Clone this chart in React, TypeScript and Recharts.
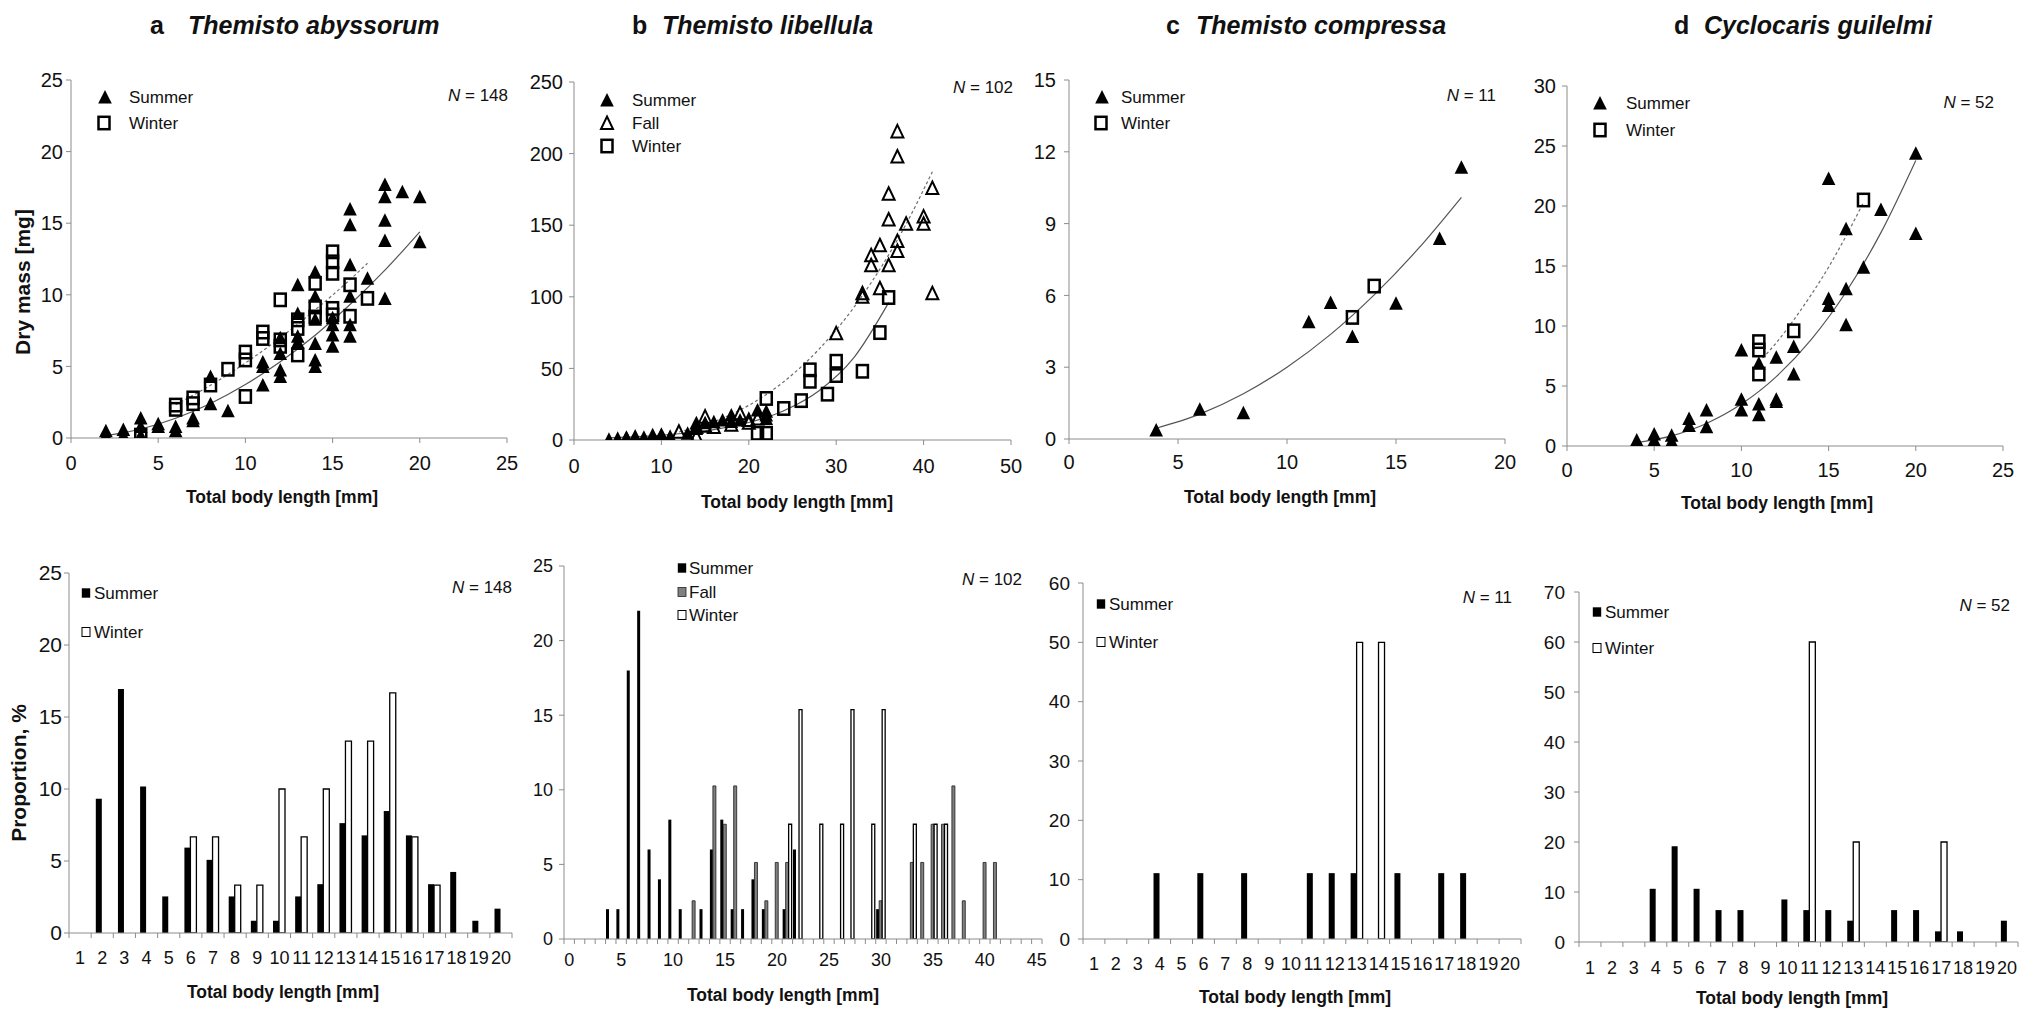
import React from 'react';
import { ComposedChart, Scatter, Line, XAxis, YAxis, BarChart, Bar, Legend } from 'recharts';

const FONT = '"Liberation Sans", Arial, Helvetica, sans-serif';
const AXIS = '#8c8c8c';
const INK = '#111111';

type Pt = [number, number];

// ---------------- Top row: dry mass [mg] vs total body length [mm] ----------------
// a  Themisto abyssorum
const aSummer: Pt[] = [[2,0.2],[2,0.5],[3,0.2],[3,0.6],[4,0.2],[4,0.8],[4,1.4],[5,0.8],[5,1.0],[6,0.5],[6,0.8],[7,1.2],[7,1.4],[8,2.4],[8,4.3],[9,1.9],[11,3.7],[11,5.0],[11,5.3],[12,4.3],[12,4.75],[12,5.9],[12,7.0],[13,6.7],[13,7.1],[13,8.7],[13,10.7],[14,5.0],[14,5.45],[14,6.6],[14,8.3],[14,9.9],[14,11.6],[15,6.4],[15,7.2],[15,7.9],[15,8.4],[16,7.1],[16,7.9],[16,9.9],[16,12.1],[16,14.9],[16,16.0],[17,11.15],[18,9.75],[18,13.8],[18,15.2],[18,16.85],[18,17.7],[19,17.2],[20,13.7],[20,16.85]];
const aWinter: Pt[] = [[4,0.2],[6,2.0],[6,2.3],[7,2.4],[7,2.8],[8,3.7],[9,4.8],[10,2.9],[10,5.45],[10,6.0],[11,6.95],[11,7.4],[12,6.4],[12,6.85],[12,9.65],[13,5.8],[13,7.65],[13,8.25],[14,8.45],[14,9.15],[14,10.8],[15,8.6],[15,9.05],[15,11.5],[15,12.3],[15,13.0],[16,8.5],[16,10.7],[17,9.75]];
const aFitSummer: Pt[] = [[2,0.16],[4,0.63],[6,1.38],[8,2.41],[10,3.73],[12,5.32],[14,7.18],[16,9.32],[18,11.72],[20,14.4]];
const aFitWinter: Pt[] = [[6,2.33],[8,3.68],[10,5.24],[12,7.0],[14,8.95],[16,11.06],[17,12.2]];

// b  Themisto libellula
const bSummer: Pt[] = [[4,0.5],[5,1.2],[6,1.5],[6,2],[7,2.8],[7,1.5],[8,2],[9,3.7],[10,3.5],[10,4],[11,2.6],[13,4.7],[14,12],[14,8],[15,12],[16,12.8],[17,14],[18,17.5],[18,13],[19,14],[21,21],[22,17.5],[22,15],[22,20]];
const bFall: Pt[] = [[12,5.8],[14,2.3],[14,9],[15,16.3],[15,10],[16,9],[18,10.7],[19,18.6],[20,14],[20,12],[21,15],[30,74.5],[33,102.5],[33,100],[34,129],[34,122],[35,136],[35,106],[36,172],[36,154],[36,122],[37,215.5],[37,198],[37,139],[37,132],[38,151],[40,156],[40,151],[41,176],[41,102.5]];
const bWinter: Pt[] = [[21,4.7],[22,4.7],[22,29],[24,22],[26,27.5],[27,49],[27,41],[29,32],[30,55],[30,45],[33,48],[35,75],[36,99.5]];
const bFitSolid: Pt[] = [[4,1.55],[8,2.6],[12,4.35],[16,7.3],[20,12.2],[24,20.4],[28,34.2],[32,57.3],[36,95.9]];
const bFitDashed: Pt[] = [[12,5.6],[16,12.8],[20,24.2],[24,40.7],[28,63.2],[32,92.4],[36,129.3],[38,150.8],[41,187.4]];

// c  Themisto compressa
const cSummer: Pt[] = [[4,0.38],[6,1.24],[8,1.1],[11,4.9],[12,5.7],[13,4.28],[15,5.67],[17,8.38],[18,11.35]];
const cWinter: Pt[] = [[13,5.08],[14,6.39]];
const cFit: Pt[] = [[4,0.45],[6,1.04],[8,1.89],[10,3.0],[12,4.37],[14,6.02],[16,7.93],[18,10.1]];

// d  Cyclocaris guilelmi
const dSummer: Pt[] = [[4,0.5],[5,1.0],[5,0.5],[5,0.2],[6,0.9],[6,0.4],[6,0.2],[7,2.3],[7,1.7],[8,3.0],[8,1.6],[10,8.0],[10,3.9],[10,3.0],[11,6.9],[11,3.5],[11,2.6],[12,7.4],[12,3.9],[12,3.7],[13,8.3],[13,6.0],[15,22.3],[15,12.3],[15,11.7],[16,18.1],[16,13.1],[16,10.1],[17,14.9],[18,19.7],[20,24.4],[20,17.7]];
const dWinter: Pt[] = [[11,8.7],[11,8.0],[11,6.0],[13,9.6],[17,20.5]];
const dFitSummer: Pt[] = [[4,0.28],[6,0.85],[8,1.88],[10,3.49],[12,5.78],[14,8.86],[16,12.83],[18,17.78],[20,23.8]];
const dFitWinter: Pt[] = [[11,7.0],[12,8.6],[13,10.5],[14,12.6],[15,14.9],[16,17.5],[17,20.3]];

// ---------------- Bottom row: proportion [%] per length class ----------------
const lens1to20 = ['1','2','3','4','5','6','7','8','9','10','11','12','13','14','15','16','17','18','19','20'];
const lens0to45 = Array.from({ length: 46 }, (_, i) => String(i));

const pSummerA = [0,9.32,16.95,10.17,2.54,5.93,5.08,2.54,0.85,0.85,2.54,3.39,7.63,6.78,8.47,6.78,3.39,4.24,0.85,1.69];
const pWinterA = [0,0,0,0,0,6.67,6.67,3.33,3.33,10,6.67,10,13.33,13.33,16.67,6.67,3.33,0,0,0];

const pSummerB = [0,0,0,0,2,2,18,22,6,4,8,2,0,2,6,8,2,2,4,2,0,2,6,0,0,0,0,0,0,0,2,0,0,0,0,0,0,0,0,0,0,0,0,0,0,0];
const pFallB = [0,0,0,0,0,0,0,0,0,0,0,0,2.56,0,10.26,7.69,10.26,0,5.13,2.56,5.13,5.13,0,0,0,0,0,0,0,0,2.56,0,0,5.13,5.13,7.69,7.69,10.26,2.56,0,5.13,5.13,0,0,0,0];
const pWinterB = [0,0,0,0,0,0,0,0,0,0,0,0,0,0,0,0,0,0,0,0,0,7.69,15.38,0,7.69,0,7.69,15.38,0,7.69,15.38,0,0,7.69,0,7.69,7.69,0,0,0,0,0,0,0,0,0];

const pSummerC = [0,0,0,11.1,0,11.1,0,11.1,0,0,11.1,11.1,11.1,0,11.1,0,11.1,11.1,0,0];
const pWinterC = [0,0,0,0,0,0,0,0,0,0,0,0,50,50,0,0,0,0,0,0];

const pSummerD = [0,0,0,10.64,19.15,10.64,6.38,6.38,0,8.51,6.38,6.38,4.26,0,6.38,6.38,2.13,2.13,0,4.26];
const pWinterD = [0,0,0,0,0,0,0,0,0,0,60,0,20,0,0,0,20,0,0,0];

// ---------------- text ----------------
const titles = [
  { letter: 'a', name: 'Themisto abyssorum', lx: 150, nx: 188 },
  { letter: 'b', name: 'Themisto libellula', lx: 632, nx: 662 },
  { letter: 'c', name: 'Themisto compressa', lx: 1166, nx: 1196 },
  { letter: 'd', name: 'Cyclocaris guilelmi', lx: 1674, nx: 1704 },
];
const nLabels = [
  { n: '148', xr: 508, cy: 95 }, { n: '102', xr: 1013, cy: 87 }, { n: '11', xr: 1496, cy: 95 }, { n: '52', xr: 1994, cy: 102 },
  { n: '148', xr: 512, cy: 587 }, { n: '102', xr: 1022, cy: 579 }, { n: '11', xr: 1512, cy: 597 }, { n: '52', xr: 2010, cy: 605 },
];

type Box = { x0: number; y0: number; x1: number; y1: number };
type LegendItem = { kind: string; mx: number; y: number; tx: number; label: string };

const toXY = (pts: Pt[]) => pts.map(([x, y]) => ({ x, y }));

function Marker({ kind, cx, cy }: { kind: string; cx: number; cy: number }) {
  if (kind === 'tri') return <polygon points={`${cx},${cy - 7} ${cx + 6.8},${cy + 6.5} ${cx - 6.8},${cy + 6.5}`} fill="#000" />;
  if (kind === 'otri') return <polygon points={`${cx},${cy - 6.5} ${cx + 6},${cy + 6} ${cx - 6},${cy + 6}`} fill="none" stroke="#000" strokeWidth={2} />;
  if (kind === 'sq') return <rect x={cx - 5.5} y={cy - 6.2} width={11} height={12.4} fill="none" stroke="#000" strokeWidth={2.5} />;
  if (kind === 'bsq') return <rect x={cx - 4.2} y={cy - 4.7} width={8.4} height={9.4} fill="#000" />;
  if (kind === 'gsq') return <rect x={cx - 4} y={cy - 4.5} width={8} height={9} fill="#808080" stroke="#222" strokeWidth={0.8} />;
  if (kind === 'wsq') return <rect x={cx - 4} y={cy - 4.5} width={8} height={9} fill="#fff" stroke="#000" strokeWidth={1} />;
  return null;
}

function legendEl(items: LegendItem[], L: number, T: number, W: number, H: number, fs: number) {
  return (
    <Legend
      layout="vertical"
      align="center"
      verticalAlign="middle"
      wrapperStyle={{ left: 0, top: 0, width: W, height: H, pointerEvents: 'none' }}
      content={() => (
        <svg width={W} height={H} style={{ position: 'absolute', left: 0, top: 0, overflow: 'visible' }}>
          {items.map((it, i) => (
            <g key={i}>
              <Marker kind={it.kind} cx={it.mx - L} cy={it.y - T} />
              <text x={it.tx - L} y={it.y - T + 0.36 * fs} fontSize={fs} fontFamily={FONT} fill={INK}>{it.label}</text>
            </g>
          ))}
        </svg>
      )}
    />
  );
}

const PAD_L = 80, PAD_T = 45, PAD_R = 15, AXIS_H = 75, PAD_B = 5;

function xTitleEl(cx: number, baseline: number, L: number, T: number) {
  return () => (
    <text x={cx - L} y={baseline - T} textAnchor="middle" fontSize={17.5} fontWeight="bold" fontFamily={FONT} fill={INK}>
      Total body length [mm]
    </text>
  );
}
function yTitleEl(text: string, bx: number, cy: number, L: number, T: number) {
  return () => (
    <text x={bx - L} y={cy - T} transform={`rotate(-90 ${bx - L} ${cy - T})`} textAnchor="middle" fontSize={21} fontWeight="bold" fontFamily={FONT} fill={INK}>
      {text}
    </text>
  );
}

type ScatterProps = {
  box: Box; xDomain: [number, number]; xTicks: number[]; yDomain: [number, number]; yTicks: number[];
  xTickTop: number; yTickGap: number; tickFs: number;
  sets: { data: Pt[]; kind: string; name: string }[];
  fits: { data: Pt[]; dashed: boolean; name: string }[];
  legend: LegendItem[]; xTitle: [number, number]; yTitle?: [string, number, number];
};

function ScatterPanel(p: ScatterProps) {
  const { box } = p;
  const L = box.x0 - PAD_L, T = box.y0 - PAD_T;
  const W = box.x1 - L + PAD_R, H = box.y1 - T + AXIS_H + PAD_B;
  return (
    <div style={{ position: 'absolute', left: L, top: T, width: W, height: H }}>
      <ComposedChart width={W} height={H} margin={{ top: PAD_T, right: PAD_R, bottom: PAD_B, left: 0 }}>
        <XAxis type="number" dataKey="x" domain={p.xDomain} ticks={p.xTicks} interval={0} allowDataOverflow
          height={AXIS_H} stroke={AXIS} tickSize={5} tickMargin={p.xTickTop - 5}
          tick={{ fill: INK, fontSize: p.tickFs, fontFamily: FONT }}
          label={xTitleEl(p.xTitle[0], p.xTitle[1], L, T)} />
        <YAxis type="number" dataKey="y" domain={p.yDomain} ticks={p.yTicks} interval={0} allowDataOverflow
          width={PAD_L} stroke={AXIS} tickSize={5} tickMargin={p.yTickGap - 5}
          tick={{ fill: INK, fontSize: p.tickFs, fontFamily: FONT }}
          label={p.yTitle ? yTitleEl(p.yTitle[0], p.yTitle[1], p.yTitle[2], L, T) : undefined} />
        {p.sets.map((s) => (
          <Scatter key={s.name} name={s.name} data={toXY(s.data)} isAnimationActive={false}
            shape={(sp: any) => <Marker kind={s.kind} cx={sp.cx} cy={sp.cy} />} />
        ))}
        {p.fits.map((f) => (
          <Line key={f.name} name={f.name} data={toXY(f.data)} dataKey="y" type="monotone" dot={false} activeDot={false}
            stroke={f.dashed ? '#6e6e6e' : '#555555'} strokeWidth={1.2} strokeDasharray={f.dashed ? '3 2.5' : undefined}
            isAnimationActive={false} legendType="none" />
        ))}
        {legendEl(p.legend, L, T, W, H, 17)}
      </ComposedChart>
    </div>
  );
}

type BarProps = {
  box: Box; cats: string[]; series: { values: number[]; fill: string; stroke: string; sw: number; name: string }[];
  yDomain: [number, number]; yTicks: number[]; yTickGap: number; yFs: number; xTickTop: number; xFs: number;
  every: number; gap: string; legend: LegendItem[]; xTitle: [number, number]; yTitle?: [string, number, number];
};

function BarPanel(p: BarProps) {
  const { box } = p;
  const L = box.x0 - PAD_L, T = box.y0 - PAD_T;
  const W = box.x1 - L + PAD_R, H = box.y1 - T + AXIS_H + PAD_B;
  const n = p.cats.length;
  const bw = (box.x1 - box.x0) / n;
  const rows = p.cats.map((c, i) => {
    const r: any = { len: c };
    p.series.forEach((s, j) => { r['s' + j] = s.values[i]; });
    return r;
  });
  const tick = (tp: any) => {
    const { x, y, payload, index } = tp;
    const ay = y - p.xTickTop;
    return (
      <g>
        <line x1={x - bw / 2} x2={x - bw / 2} y1={ay} y2={ay + 5} stroke={AXIS} />
        {index === n - 1 && <line x1={x + bw / 2} x2={x + bw / 2} y1={ay} y2={ay + 5} stroke={AXIS} />}
        {index % p.every === 0 && (
          <text x={x} y={y} dy="0.71em" textAnchor="middle" fontSize={p.xFs} fontFamily={FONT} fill={INK}>{payload.value}</text>
        )}
      </g>
    );
  };
  return (
    <div style={{ position: 'absolute', left: L, top: T, width: W, height: H }}>
      <BarChart width={W} height={H} data={rows} barGap={0} barCategoryGap={p.gap}
        margin={{ top: PAD_T, right: PAD_R, bottom: PAD_B, left: 0 }}>
        <XAxis dataKey="len" type="category" interval={0} height={AXIS_H} stroke={AXIS} tickLine={false}
          tickSize={0} tickMargin={p.xTickTop} tick={tick}
          label={xTitleEl(p.xTitle[0], p.xTitle[1], L, T)} />
        <YAxis type="number" domain={p.yDomain} ticks={p.yTicks} interval={0} allowDataOverflow width={PAD_L}
          stroke={AXIS} tickSize={5} tickMargin={p.yTickGap - 5}
          tick={{ fill: INK, fontSize: p.yFs, fontFamily: FONT }}
          label={p.yTitle ? yTitleEl(p.yTitle[0], p.yTitle[1], p.yTitle[2], L, T) : undefined} />
        {p.series.map((s, j) => (
          <Bar key={s.name} name={s.name} dataKey={'s' + j} fill={s.fill} stroke={s.stroke} strokeWidth={s.sw}
            isAnimationActive={false} />
        ))}
        {legendEl(p.legend, L, T, W, H, 17)}
      </BarChart>
    </div>
  );
}

const S_BLACK = { fill: '#000', stroke: '#000', sw: 0 };
const S_GRAY = { fill: '#808080', stroke: '#1a1a1a', sw: 0.8 };
const S_WHITE = { fill: '#fff', stroke: '#000', sw: 1.3 };

export default function App() {
  return (
    <div style={{ position: 'absolute', left: 0, top: 0, width: 2037, height: 1010, background: '#fff', overflow: 'hidden', fontFamily: FONT, color: INK }}>
      {titles.map((t) => (
        <React.Fragment key={t.letter}>
          <div style={{ position: 'absolute', left: t.lx, top: 13, fontSize: 25, lineHeight: '25px', fontWeight: 'bold', whiteSpace: 'nowrap' }}>{t.letter}</div>
          <div style={{ position: 'absolute', left: t.nx, top: 13, fontSize: 25, lineHeight: '25px', fontWeight: 'bold', fontStyle: 'italic', whiteSpace: 'nowrap' }}>{t.name}</div>
        </React.Fragment>
      ))}

      <ScatterPanel box={{ x0: 71, y0: 80, x1: 507, y1: 438 }} xDomain={[0, 25]} xTicks={[0, 5, 10, 15, 20, 25]}
        yDomain={[0, 25]} yTicks={[0, 5, 10, 15, 20, 25]} xTickTop={18} yTickGap={8} tickFs={20}
        sets={[{ data: aSummer, kind: 'tri', name: 'Summer' }, { data: aWinter, kind: 'sq', name: 'Winter' }]}
        fits={[{ data: aFitSummer, dashed: false, name: 'fitS' }, { data: aFitWinter, dashed: true, name: 'fitW' }]}
        legend={[{ kind: 'tri', mx: 105, y: 97, tx: 129, label: 'Summer' }, { kind: 'sq', mx: 104, y: 123, tx: 129, label: 'Winter' }]}
        xTitle={[282, 503]} yTitle={['Dry mass [mg]', 30, 282]} />

      <ScatterPanel box={{ x0: 574, y0: 82, x1: 1011, y1: 440 }} xDomain={[0, 50]} xTicks={[0, 10, 20, 30, 40, 50]}
        yDomain={[0, 250]} yTicks={[0, 50, 100, 150, 200, 250]} xTickTop={19} yTickGap={11} tickFs={20}
        sets={[{ data: bSummer, kind: 'tri', name: 'Summer' }, { data: bFall, kind: 'otri', name: 'Fall' }, { data: bWinter, kind: 'sq', name: 'Winter' }]}
        fits={[{ data: bFitSolid, dashed: false, name: 'fitW' }, { data: bFitDashed, dashed: true, name: 'fitF' }]}
        legend={[{ kind: 'tri', mx: 607, y: 100, tx: 632, label: 'Summer' }, { kind: 'otri', mx: 607, y: 123, tx: 632, label: 'Fall' }, { kind: 'sq', mx: 607, y: 146, tx: 632, label: 'Winter' }]}
        xTitle={[797, 508]} />

      <ScatterPanel box={{ x0: 1069, y0: 80, x1: 1505, y1: 439 }} xDomain={[0, 20]} xTicks={[0, 5, 10, 15, 20]}
        yDomain={[0, 15]} yTicks={[0, 3, 6, 9, 12, 15]} xTickTop={16} yTickGap={13} tickFs={20}
        sets={[{ data: cSummer, kind: 'tri', name: 'Summer' }, { data: cWinter, kind: 'sq', name: 'Winter' }]}
        fits={[{ data: cFit, dashed: false, name: 'fit' }]}
        legend={[{ kind: 'tri', mx: 1102, y: 97, tx: 1121, label: 'Summer' }, { kind: 'sq', mx: 1101, y: 123, tx: 1121, label: 'Winter' }]}
        xTitle={[1280, 503]} />

      <ScatterPanel box={{ x0: 1567, y0: 86, x1: 2003, y1: 446 }} xDomain={[0, 25]} xTicks={[0, 5, 10, 15, 20, 25]}
        yDomain={[0, 30]} yTicks={[0, 5, 10, 15, 20, 25, 30]} xTickTop={17} yTickGap={11} tickFs={20}
        sets={[{ data: dSummer, kind: 'tri', name: 'Summer' }, { data: dWinter, kind: 'sq', name: 'Winter' }]}
        fits={[{ data: dFitSummer, dashed: false, name: 'fitS' }, { data: dFitWinter, dashed: true, name: 'fitW' }]}
        legend={[{ kind: 'tri', mx: 1600, y: 103, tx: 1626, label: 'Summer' }, { kind: 'sq', mx: 1600, y: 130, tx: 1626, label: 'Winter' }]}
        xTitle={[1777, 509]} />

      <BarPanel box={{ x0: 69, y0: 573, x1: 512, y1: 933 }} cats={lens1to20}
        series={[{ values: pSummerA, name: 'Summer', ...S_BLACK }, { values: pWinterA, name: 'Winter', ...S_WHITE }]}
        yDomain={[0, 25]} yTicks={[0, 5, 10, 15, 20, 25]} yTickGap={7} yFs={21} xTickTop={18} xFs={18} every={1} gap="21%"
        legend={[{ kind: 'bsq', mx: 86, y: 593, tx: 94, label: 'Summer' }, { kind: 'wsq', mx: 86, y: 632, tx: 94, label: 'Winter' }]}
        xTitle={[283, 998]} yTitle={['Proportion, %', 26, 773]} />

      <BarPanel box={{ x0: 564, y0: 566, x1: 1042, y1: 939 }} cats={lens0to45}
        series={[{ values: pSummerB, name: 'Summer', ...S_BLACK }, { values: pFallB, name: 'Fall', ...S_GRAY }, { values: pWinterB, name: 'Winter', ...S_WHITE }]}
        yDomain={[0, 25]} yTicks={[0, 5, 10, 15, 20, 25]} yTickGap={11} yFs={18} xTickTop={14} xFs={18} every={5} gap="4%"
        legend={[{ kind: 'bsq', mx: 682, y: 568, tx: 689, label: 'Summer' }, { kind: 'gsq', mx: 682, y: 592, tx: 689, label: 'Fall' }, { kind: 'wsq', mx: 682, y: 615, tx: 689, label: 'Winter' }]}
        xTitle={[783, 1001]} />

      <BarPanel box={{ x0: 1083, y0: 583, x1: 1521, y1: 939 }} cats={lens1to20}
        series={[{ values: pSummerC, name: 'Summer', ...S_BLACK }, { values: pWinterC, name: 'Winter', ...S_WHITE }]}
        yDomain={[0, 60]} yTicks={[0, 10, 20, 30, 40, 50, 60]} yTickGap={13} yFs={19} xTickTop={18} xFs={18} every={1} gap="22%"
        legend={[{ kind: 'bsq', mx: 1101, y: 604, tx: 1109, label: 'Summer' }, { kind: 'wsq', mx: 1101, y: 642, tx: 1109, label: 'Winter' }]}
        xTitle={[1295, 1003]} />

      <BarPanel box={{ x0: 1579, y0: 592, x1: 2018, y1: 942 }} cats={lens1to20}
        series={[{ values: pSummerD, name: 'Summer', ...S_BLACK }, { values: pWinterD, name: 'Winter', ...S_WHITE }]}
        yDomain={[0, 70]} yTicks={[0, 10, 20, 30, 40, 50, 60, 70]} yTickGap={14} yFs={19} xTickTop={19} xFs={18} every={1} gap="22%"
        legend={[{ kind: 'bsq', mx: 1597, y: 612, tx: 1605, label: 'Summer' }, { kind: 'wsq', mx: 1597, y: 648, tx: 1605, label: 'Winter' }]}
        xTitle={[1792, 1004]} />

      {nLabels.map((l, i) => (
        <div key={i} style={{ position: 'absolute', right: 2037 - l.xr, top: l.cy - 8.5, fontSize: 17, lineHeight: '17px', whiteSpace: 'nowrap' }}>
          <i>N</i> = {l.n}
        </div>
      ))}
    </div>
  );
}
